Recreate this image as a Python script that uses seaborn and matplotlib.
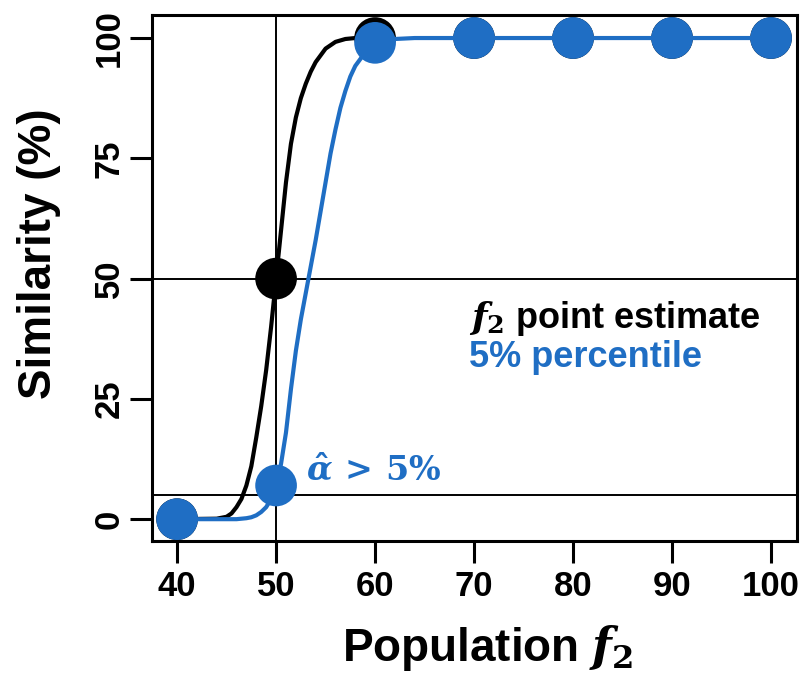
import matplotlib
matplotlib.use("Agg")
import matplotlib.pyplot as plt
import seaborn as sns
import pandas as pd

# ---- data ----
black_curve_x = [40, 44, 45, 45.5, 46, 46.5, 47, 47.5, 48, 48.5, 49, 49.5, 50,
                 50.5, 51, 51.5, 52, 52.5, 53, 53.5, 54, 55, 56, 57, 58, 60]
black_curve_y = [0, 0.1, 0.5, 1.2, 2.5, 4.2, 7, 11, 17, 23.5, 31, 40, 50,
                 60, 70, 78, 83.5, 87.5, 90.5, 93, 95, 97.8, 99.2, 99.8, 100, 100]

blue_curve_x = [40, 46, 47, 47.5, 48, 48.5, 49, 49.5, 50, 50.5, 51, 51.5, 52,
                52.5, 53, 53.5, 54, 54.5, 55, 55.5, 56, 56.5, 57, 57.5, 58,
                59, 60, 61, 62, 64, 100]
blue_curve_y = [0, 0, 0.2, 0.4, 0.8, 1.5, 2.5, 4.2, 6.8, 11.5, 18, 27, 35,
                41.5, 47, 52.5, 58, 64, 70, 76, 81, 85.5, 89, 92, 94.2,
                97, 99.0, 99.5, 99.8, 100, 100]

point_x = [40, 50, 60, 70, 80, 90, 100]
black_point_y = [0, 50, 100, 100, 100, 100, 100]
blue_point_y = [0, 7, 99.0, 100, 100, 100, 100]

x_ticks = [40, 50, 60, 70, 80, 90, 100]
y_ticks = [0, 25, 50, 75, 100]
ref_x = 50
ref_y = [50, 5]

BLUE = "#1f6ec4"

sns.set_theme(style="white")
plt.rcParams["font.family"] = ["Liberation Sans", "DejaVu Sans"]
plt.rcParams["mathtext.fontset"] = "custom"
plt.rcParams["mathtext.it"] = "DejaVu Serif:italic:bold"
plt.rcParams["mathtext.rm"] = "DejaVu Serif:bold"
plt.rcParams["mathtext.bf"] = "DejaVu Serif:bold"
plt.rcParams["text.color"] = "black"
plt.rcParams["axes.labelcolor"] = "black"
plt.rcParams["xtick.color"] = "black"
plt.rcParams["ytick.color"] = "black"

fig = plt.figure(figsize=(8.1, 6.79), dpi=100)
ax = fig.add_axes([0.1877, 0.203, 0.796, 0.775])

ax.axvline(ref_x, color="black", lw=1.4, zorder=1)
for yv in ref_y:
    ax.axhline(yv, color="black", lw=1.4, zorder=1)

df_bc = pd.DataFrame({"x": black_curve_x, "y": black_curve_y})
df_uc = pd.DataFrame({"x": blue_curve_x, "y": blue_curve_y})
df_bp = pd.DataFrame({"x": point_x, "y": black_point_y})
df_up = pd.DataFrame({"x": point_x, "y": blue_point_y})

sns.lineplot(data=df_bc, x="x", y="y", color="black", lw=3, ax=ax,
             sort=False, zorder=2)
sns.scatterplot(data=df_bp, x="x", y="y", color="black", s=900, ax=ax,
                edgecolor="none", zorder=3)
sns.lineplot(data=df_uc, x="x", y="y", color=BLUE, lw=3, ax=ax,
             sort=False, zorder=4)
sns.scatterplot(data=df_up, x="x", y="y", color=BLUE, s=900, ax=ax,
                edgecolor="none", zorder=5)

ax.set_xlim(37.47, 102.6)
ax.set_ylim(-4.57, 104.8)

for sp in ax.spines.values():
    sp.set_visible(True)
    sp.set_color("black")
    sp.set_linewidth(2.2)

ax.set_xticks(x_ticks)
ax.set_yticks(y_ticks)
tick_font = dict(family=["Liberation Sans", "DejaVu Sans"],
                 weight="bold", size=25, color="black")
ax.set_xticklabels([str(v) for v in x_ticks], fontdict=tick_font)
ax.set_yticklabels([str(v) for v in y_ticks], fontdict=tick_font,
                   rotation=90, va="center")
ax.tick_params(axis="both", direction="out", length=16, width=2.2,
               color="black", bottom=True, left=True)
ax.tick_params(axis="x", pad=5)
ax.tick_params(axis="y", pad=3)

ax.set_xlabel(r"Population $f_2$", fontsize=33, fontweight="bold",
              color="black")
ax.set_ylabel("Similarity (%)", fontsize=33, fontweight="bold", color="black")
ax.xaxis.set_label_coords(0.52, -0.155)
ax.yaxis.set_label_coords(-0.141, 0.547)

ax.text(69.5, 41.8, r"$f_2$ point estimate", fontsize=26,
        fontweight="bold", color="black", va="center", ha="left")
ax.text(69.5, 33.5, "5% percentile", fontsize=26, fontweight="bold",
        color=BLUE, va="center", ha="left")
ax.text(53.0, 10.0, r"$\hat{\alpha}\,>\,5\%$",
        fontsize=24, color=BLUE, va="center", ha="left")

fig.savefig("out.png", dpi=100)
